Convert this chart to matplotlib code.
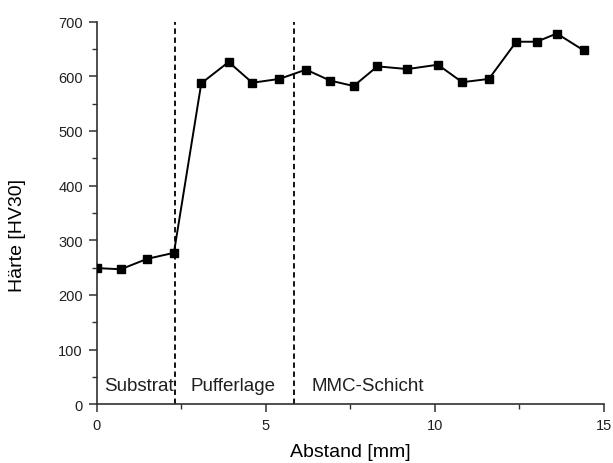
import numpy as np
import matplotlib
matplotlib.use("Agg")
import matplotlib.pyplot as plt
from matplotlib.ticker import MultipleLocator

# Data
abstand = [0.0, 0.71, 1.49, 2.28, 3.09, 3.90, 4.60, 5.40, 6.19, 6.90, 7.60,
           8.30, 9.19, 10.09, 10.81, 11.60, 12.41, 13.01, 13.61, 14.41]
haerte = [249, 247, 266, 277, 587, 626, 588, 595, 612, 592, 582,
          618, 613, 621, 589, 595, 663, 663, 678, 647]

grenzen = [2.31, 5.83]
zonen = ["Substrat", "Pufferlage", "MMC-Schicht"]
zonen_x = [0.2, 2.78, 6.36]
zonen_y = 34

plt.rcParams.update({
    "font.family": ["Liberation Sans", "DejaVu Sans"],
    "text.color": "#202020",
    "axes.edgecolor": "#303030",
    "xtick.color": "#303030",
    "ytick.color": "#303030",
    "xtick.labelcolor": "#202020",
    "ytick.labelcolor": "#202020",
})

fig = plt.figure(figsize=(6.13, 4.64), dpi=100)
ax = fig.add_axes([0.158, 0.1265, 0.827, 0.825])

ax.plot(abstand, haerte, color="black", lw=1.4, marker="s", ms=5.2,
        mfc="black", mec="black", zorder=3)

for g in grenzen:
    ax.axvline(g, color="black", lw=1.3, ls=(0, (3, 2)), zorder=2)

for name, x in zip(zonen, zonen_x):
    ax.text(x, zonen_y, name, fontsize=13.5, va="center", ha="left")

ax.set_xlim(0, 15)
ax.set_ylim(0, 700)
ax.xaxis.set_major_locator(MultipleLocator(5))
ax.xaxis.set_minor_locator(MultipleLocator(2.5))
ax.yaxis.set_major_locator(MultipleLocator(100))
ax.yaxis.set_minor_locator(MultipleLocator(50))

for s in ["top", "right"]:
    ax.spines[s].set_visible(False)
for s in ["left", "bottom"]:
    ax.spines[s].set_linewidth(1.2)

ax.tick_params(which="major", direction="out", length=6, width=1.1,
               labelsize=10.5, pad=4)
ax.tick_params(which="minor", direction="out", length=3.5, width=1.0)

ax.set_xlabel("Abstand [mm]", fontsize=14, labelpad=8)
ax.set_ylabel("Härte [HV30]", fontsize=14)
# label sits a bit below the axis centre in the original
ax.yaxis.set_label_coords(-0.14, 0.444)

fig.savefig("out.png", dpi=100)
